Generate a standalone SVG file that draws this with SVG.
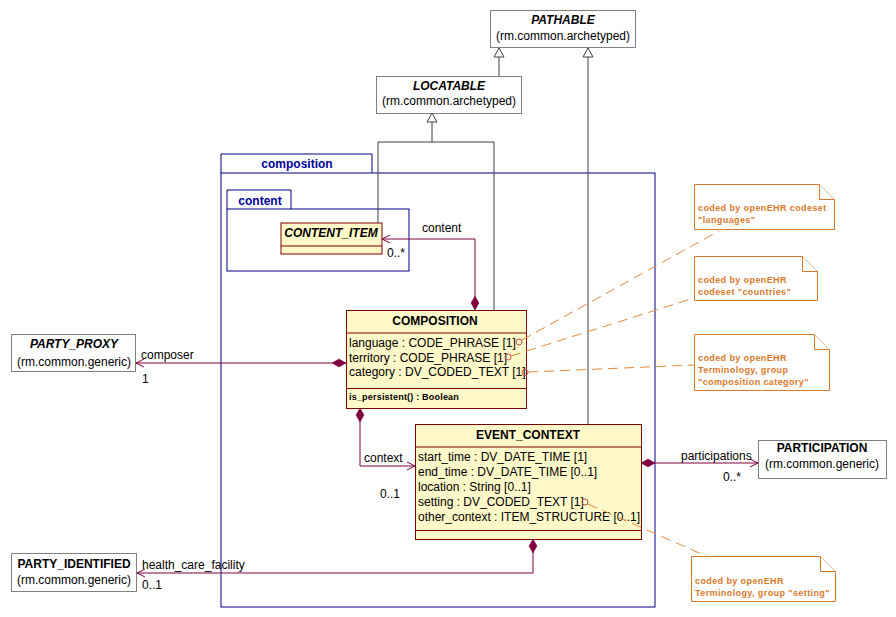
<svg xmlns="http://www.w3.org/2000/svg" width="896" height="617" viewBox="0 0 896 617">
<style>
text{font-family:"Liberation Sans",Arial,sans-serif;font-size:12px;fill:#000}
.t{font-weight:bold}
.ti{font-weight:bold;font-style:italic}
.c{text-anchor:middle}
.gbox{fill:#fff;stroke:#808080;stroke-width:1}
.cls{fill:#fff8c8;stroke:#800000;stroke-width:1}
.pkg{fill:none;stroke:#000080;stroke-width:1}
.pkgt{font-weight:bold;fill:#000099}
.inh{fill:none;stroke:#404040;stroke-width:1}
.asc{fill:none;stroke:#800040;stroke-width:1}
.note{fill:#fff;stroke:#d9782b;stroke-width:1}
.nt{font-size:9px;font-weight:bold;fill:#d9782b;letter-spacing:0.4px}
.dash{fill:none;stroke:#e08a3c;stroke-width:1;stroke-dasharray:10,6}
.op{font-size:9px;font-weight:bold;letter-spacing:0.2px}
.lbl{font-size:12px}
.pin{fill:none;stroke:#c0504d;stroke-width:1}
</style>
<defs>
<marker id="tri" markerUnits="userSpaceOnUse" markerWidth="12" markerHeight="12" refX="9" refY="5" orient="auto" overflow="visible">
<path d="M0,0 L9,5 L0,10 Z" fill="#fff" stroke="#404040" stroke-width="1"/>
</marker>
<marker id="dia" markerUnits="userSpaceOnUse" markerWidth="16" markerHeight="10" refX="0" refY="4" orient="auto" overflow="visible">
<path d="M0,4 L7,0 L14,4 L7,8 Z" fill="#800040" stroke="#800040" stroke-width="0.5"/>
</marker>
<marker id="arr" markerUnits="userSpaceOnUse" markerWidth="10" markerHeight="10" refX="8" refY="4" orient="auto" overflow="visible">
<path d="M0,0 L8,4 L0,8" fill="none" stroke="#800040" stroke-width="1"/>
</marker>
</defs>
<rect width="896" height="617" fill="#fff"/>

<g id="pkg-composition">
<path class="pkg" d="M221,173 L221,154 L372,154 L372,173"/>
<rect class="pkg" x="221" y="173" width="434" height="434"/>
<text class="pkgt c" x="297" y="168">composition</text>
</g>
<g id="pkg-content">
<path class="pkg" d="M227,209 L227,190 L291,190 L291,209"/>
<rect class="pkg" x="227" y="209" width="182" height="62"/>
<text class="pkgt c" x="260" y="205">content</text>
</g>

<g id="PATHABLE">
<rect class="gbox" x="490.5" y="10.5" width="145" height="37"/>
<text class="ti c" x="563" y="24">PATHABLE</text>
<text class="c" x="563" y="40">(rm.common.archetyped)</text>
</g>
<g id="LOCATABLE">
<rect class="gbox" x="376.5" y="76.5" width="145" height="37"/>
<text class="ti c" x="449" y="90">LOCATABLE</text>
<text class="c" x="449" y="105">(rm.common.archetyped)</text>
</g>
<g id="CONTENT_ITEM">
<rect class="cls" x="281" y="223" width="101" height="31"/>
<line x1="281" y1="246" x2="382" y2="246" stroke="#800000"/>
<text class="ti c" x="331" y="237">CONTENT_ITEM</text>
</g>
<g id="COMPOSITION">
<rect class="cls" x="346.5" y="310.5" width="180" height="98"/>
<line x1="346.5" y1="333" x2="526.5" y2="333" stroke="#800000"/>
<line x1="346.5" y1="388.5" x2="526.5" y2="388.5" stroke="#800000"/>
<text class="t c" x="435" y="325">COMPOSITION</text>
<text x="349" y="347">language : CODE_PHRASE [1]</text>
<text x="349" y="361.5">territory : CODE_PHRASE [1]</text>
<text x="349" y="376">category : DV_CODED_TEXT [1]</text>
<text class="op" x="349" y="400">is_persistent() : Boolean</text>
</g>
<g id="EVENT_CONTEXT">
<rect class="cls" x="415.5" y="424.5" width="226" height="115"/>
<line x1="415.5" y1="447" x2="641.5" y2="447" stroke="#800000"/>
<line x1="415.5" y1="530.5" x2="641.5" y2="530.5" stroke="#800000"/>
<text class="t c" x="528" y="439">EVENT_CONTEXT</text>
<text x="418" y="461">start_time : DV_DATE_TIME [1]</text>
<text x="418" y="476">end_time : DV_DATE_TIME [0..1]</text>
<text x="418" y="490.5">location : String [0..1]</text>
<text x="418" y="505.5">setting : DV_CODED_TEXT [1]</text>
<text x="418" y="520.5">other_context : ITEM_STRUCTURE [0..1]</text>
</g>
<g id="PARTY_PROXY">
<rect class="gbox" x="11.5" y="334.5" width="124" height="37"/>
<text class="ti c" x="74" y="348">PARTY_PROXY</text>
<text class="c" x="74" y="366">(rm.common.generic)</text>
</g>
<g id="PARTY_IDENTIFIED">
<rect class="gbox" x="11.5" y="553.5" width="125" height="38"/>
<text class="t c" x="74" y="568">PARTY_IDENTIFIED</text>
<text class="c" x="74" y="584">(rm.common.generic)</text>
</g>
<g id="PARTICIPATION">
<rect class="gbox" x="758.5" y="440.5" width="128" height="38"/>
<text class="t c" x="822" y="452">PARTICIPATION</text>
<text class="c" x="822" y="468">(rm.common.generic)</text>
</g>

<g id="note-languages">
<path class="note" d="M694.5,184.5 L819.5,184.5 L834.5,199.5 L834.5,229.5 L694.5,229.5 Z"/>
<path class="note" d="M819.5,184.5 L819.5,199.5 L834.5,199.5" fill="none"/>
<text class="nt" x="698" y="211">coded by openEHR codeset</text>
<text class="nt" x="698" y="223">"languages"</text>
</g>
<g id="note-countries">
<path class="note" d="M694.5,256.5 L802.5,256.5 L817.5,271.5 L817.5,300.5 L694.5,300.5 Z"/>
<path class="note" d="M802.5,256.5 L802.5,271.5 L817.5,271.5" fill="none"/>
<text class="nt" x="698" y="283">coded by openEHR</text>
<text class="nt" x="698" y="295">codeset "countries"</text>
</g>
<g id="note-category">
<path class="note" d="M694.5,334.5 L814.5,334.5 L829.5,349.5 L829.5,390.5 L694.5,390.5 Z"/>
<path class="note" d="M814.5,334.5 L814.5,349.5 L829.5,349.5" fill="none"/>
<text class="nt" x="698" y="361">coded by openEHR</text>
<text class="nt" x="698" y="373">Terminology, group</text>
<text class="nt" x="698" y="385">"composition category"</text>
</g>
<g id="note-setting">
<path class="note" d="M691.5,556.5 L820.5,556.5 L835.5,571.5 L835.5,601.5 L691.5,601.5 Z"/>
<path class="note" d="M820.5,556.5 L820.5,571.5 L835.5,571.5" fill="none"/>
<text class="nt" x="695" y="584">coded by openEHR</text>
<text class="nt" x="695" y="596">Terminology, group "setting"</text>
</g>

<g id="connectors">
<path class="inh" d="M499,76 L499,48" marker-end="url(#tri)"/>
<path class="inh" d="M588,424 L588,48" marker-end="url(#tri)"/>
<path class="inh" d="M378,223 L378,142 L494,142 L494,310"/>
<path class="inh" d="M432,142 L432,113" marker-end="url(#tri)"/>
<path class="asc" d="M475,310 L475,239 L382,239" marker-start="url(#dia)" marker-end="url(#arr)"/>
<path class="asc" d="M346,363 L136,363" marker-start="url(#dia)" marker-end="url(#arr)"/>
<path class="asc" d="M360,408 L360,466 L415,466" marker-start="url(#dia)" marker-end="url(#arr)"/>
<path class="asc" d="M641,463 L758,463" marker-start="url(#dia)" marker-end="url(#arr)"/>
<path class="asc" d="M533,539 L533,573 L137,573" marker-start="url(#dia)" marker-end="url(#arr)"/>
<text class="lbl" x="422" y="232">content</text>
<text class="lbl" x="387" y="257">0..*</text>
<text class="lbl" x="141" y="359">composer</text>
<text class="lbl" x="142" y="383">1</text>
<text class="lbl" x="364" y="462">context</text>
<text class="lbl" x="380" y="498">0..1</text>
<text class="lbl" x="681" y="460">participations</text>
<text class="lbl" x="723" y="481">0..*</text>
<text class="lbl" x="142" y="569">health_care_facility</text>
<text class="lbl" x="142" y="589">0..1</text>
<path class="dash" d="M522,340 L719,231"/>
<path class="dash" d="M511,356 L694,298"/>
<path class="dash" d="M528,372 L694,365"/>
<path class="dash" d="M588,504 L706,556"/>
<circle class="pin" cx="519" cy="342" r="3"/>
<circle class="pin" cx="508" cy="357" r="3"/>
<circle class="pin" cx="525" cy="372.5" r="3"/>
<circle class="pin" cx="585" cy="502" r="3"/>
</g>
</svg>
